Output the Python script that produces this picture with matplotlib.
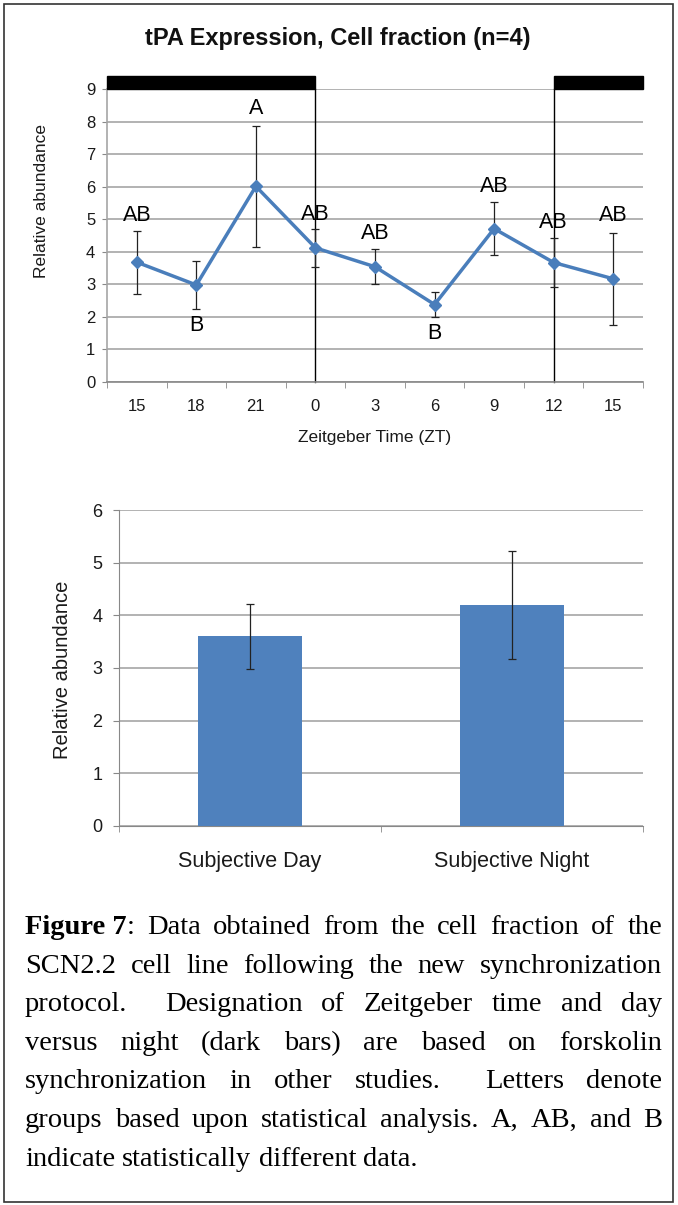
import matplotlib
matplotlib.use("Agg")
import matplotlib.pyplot as plt
from matplotlib.patches import Rectangle
import numpy as np

plt.rcParams['font.family'] = ['Liberation Sans', 'DejaVu Sans']

# ---------------- data ----------------
zt_labels = ["15", "18", "21", "0", "3", "6", "9", "12", "15"]
zt_means = [3.68, 2.98, 6.01, 4.12, 3.54, 2.38, 4.71, 3.67, 3.17]
zt_err = [0.97, 0.73, 1.86, 0.58, 0.53, 0.39, 0.82, 0.76, 1.42]
zt_letters = ["AB", "B", "A", "AB", "AB", "B", "AB", "AB", "AB"]
letter_y = [5.1, 1.75, 8.4, 5.15, 4.55, 1.5, 6.0, 4.9, 5.1]
night_spans = [(-0.5, 3), (7, 8.5)]   # dark bars (category index units)
night_lines = [3, 7]

bar_cats = ["Subjective Day", "Subjective Night"]
bar_means = [3.6, 4.2]
bar_err = [0.62, 1.03]

caption_lines = [
    [[("Figure 7", "bold"), (":", "normal")], [("Data", "normal")], [("obtained", "normal")],
     [("from", "normal")], [("the", "normal")], [("cell", "normal")], [("fraction", "normal")],
     [("of", "normal")], [("the", "normal")]],
    "SCN2.2 cell line following the new synchronization",
    "protocol.  Designation of Zeitgeber time and day",
    "versus night (dark bars) are based on forskolin",
    "synchronization in other studies.  Letters denote",
    "groups based upon statistical analysis. A, AB, and B",
    "indicate statistically different data.",
]

W, H = 678, 1205
fig = plt.figure(figsize=(W / 100, H / 100), dpi=100)

def fx(x):
    return x / W

def fy(y):
    return 1 - y / H

grid_col = "#a6a6a6"
line_col = "#4a7ebb"
bar_col = "#4f81bd"
txt_col = "#1a1a1a"

# ---------------- top chart ----------------
ax1 = fig.add_axes([fx(107), fy(382), fx(643) - fx(107), fy(89) - fy(382)])
x = np.arange(len(zt_labels))
ax1.errorbar(x, zt_means, yerr=zt_err, fmt="none", ecolor="#222222", elinewidth=0.9,
             capsize=3, capthick=0.9, zorder=3)
ax1.plot(x, zt_means, color=line_col, lw=2.5, marker="D", ms=6, mfc=line_col,
         mec=line_col, zorder=4)
ax1.set_xlim(-0.5, len(zt_labels) - 0.5)
ax1.set_ylim(0, 9)
ax1.set_yticks(range(0, 10))
ax1.yaxis.grid(True, color=grid_col, lw=1.2)
ax1.set_axisbelow(True)
for s in ["top", "right"]:
    ax1.spines[s].set_visible(False)
ax1.spines["left"].set_color(grid_col)
ax1.spines["bottom"].set_color("#888888")
ax1.spines["left"].set_linewidth(1.2)
ax1.spines["bottom"].set_linewidth(1.2)
ax1.set_xticks(x)
ax1.set_xticklabels(zt_labels, fontsize=12, color=txt_col)
ax1.set_xticks(np.arange(-0.5, len(zt_labels)), minor=True)
ax1.tick_params(axis="x", which="major", length=0, pad=12)
ax1.tick_params(axis="x", which="minor", length=4, color="#888888", direction="out")
ax1.tick_params(axis="y", length=3.5, color="#888888", labelsize=12, pad=5,
                labelcolor=txt_col)
ax1.set_xlabel("Zeitgeber Time (ZT)", fontsize=12.5, labelpad=12, color=txt_col)
fig.text(fx(42), fy(201), "Relative abundance", rotation=90, ha="center", va="center",
         fontsize=12.5, color=txt_col)
for xi, lt, ly in zip(x, zt_letters, letter_y):
    ax1.text(xi, ly, lt, ha="center", va="center", fontsize=15.5, color="black", zorder=5)
for a, b in night_spans:
    ax1.add_patch(Rectangle((a, 9.0), b - a, 0.4, facecolor="black", edgecolor="black",
                            clip_on=False, zorder=5))
for v in night_lines:
    ax1.plot([v, v], [0, 9.0], color="black", lw=1.0, zorder=2, clip_on=False)

fig.text(fx(338), fy(38), "tPA Expression, Cell fraction (n=4)", ha="center", va="center",
         fontsize=17, fontweight="bold", color="#111111")

# ---------------- bottom chart ----------------
ax2 = fig.add_axes([fx(119), fy(826), fx(643) - fx(119), fy(510) - fy(826)])
xb = np.arange(len(bar_cats))
ax2.bar(xb, bar_means, width=0.4, color=bar_col, zorder=3)
ax2.errorbar(xb, bar_means, yerr=bar_err, fmt="none", ecolor="#222222", elinewidth=0.9,
             capsize=3, capthick=0.9, zorder=4)
ax2.set_xlim(-0.5, len(bar_cats) - 0.5)
ax2.set_ylim(0, 6)
ax2.set_yticks(range(0, 7))
ax2.yaxis.grid(True, color=grid_col, lw=1.2)
ax2.set_axisbelow(True)
for s in ["top", "right"]:
    ax2.spines[s].set_visible(False)
ax2.spines["left"].set_color("#888888")
ax2.spines["bottom"].set_color("#888888")
ax2.set_xticks(xb)
ax2.set_xticklabels(bar_cats, fontsize=15.5, color=txt_col)
ax2.set_xticks(np.arange(-0.5, len(bar_cats)), minor=True)
ax2.tick_params(axis="x", which="major", length=0, pad=18)
ax2.tick_params(axis="x", which="minor", length=4, color="#888888")
ax2.tick_params(axis="y", length=4, color="#888888", labelsize=13, pad=8,
                labelcolor=txt_col)
fig.text(fx(62), fy(670), "Relative abundance", rotation=90, ha="center", va="center",
         fontsize=14.5, color=txt_col)

# ---------------- caption (justified) ----------------
cap_fs = 20.5
left_px, right_px = 25, 662
base0, step = 934, 38.6
renderer = fig.canvas.get_renderer()

def measure(s, weight):
    t = fig.text(0, 0, s, fontsize=cap_fs, family="Liberation Serif", fontweight=weight)
    w = t.get_window_extent(renderer=renderer).width
    t.remove()
    return w

space_w = measure("a b", "normal") - measure("ab", "normal")
for i, line in enumerate(caption_lines):
    if isinstance(line, str):
        parts = line.split(" ")
        words, gaps = [], []
        pending = 0
        for p in parts:
            if p == "":
                pending += 1
                continue
            if words:
                gaps.append(1 + pending)
            pending = 0
            words.append([(p, "normal")])
    else:
        words = line
        gaps = [1] * (len(words) - 1)
    widths = [sum(measure(s, wt) for s, wt in w) for w in words]
    total = sum(widths)
    last = i == len(caption_lines) - 1
    if last:
        unit = space_w
    else:
        unit = max((right_px - left_px - total) / sum(gaps), 0.5 * space_w)
    xpos = left_px
    yb = base0 + i * step
    for k, w in enumerate(words):
        xx = xpos
        for s, wt in w:
            fig.text(fx(xx), fy(yb), s, fontsize=cap_fs, family="Liberation Serif",
                     fontweight=wt, ha="left", va="baseline", color="black")
            xx += measure(s, wt)
        xpos += widths[k]
        if k < len(gaps):
            xpos += unit * gaps[k]

# border
fig.add_artist(Rectangle((fx(4), fy(1202)), fx(673) - fx(4), fy(4) - fy(1202),
                         transform=fig.transFigure, fill=False, edgecolor="#333333",
                         lw=1.2))

fig.savefig("out.png", dpi=100)
